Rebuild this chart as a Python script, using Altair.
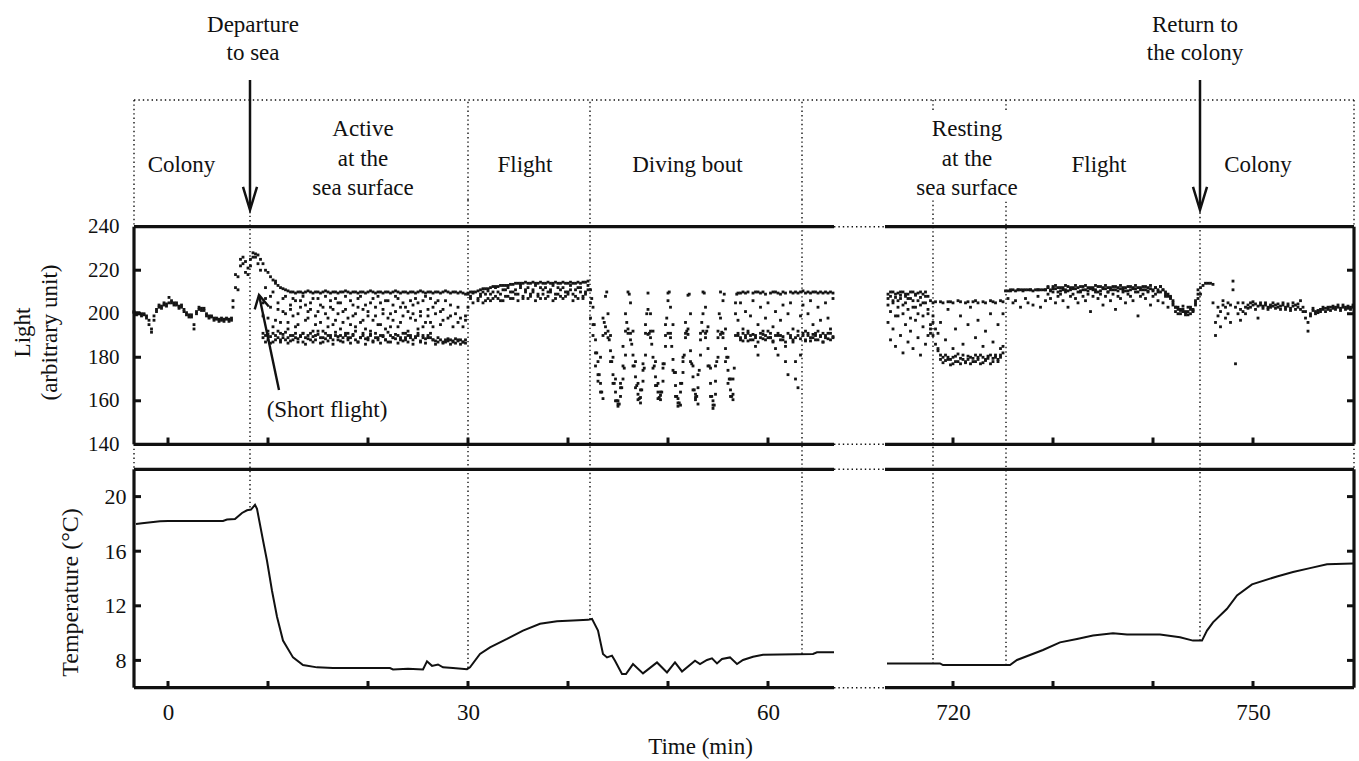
import altair as alt
import pandas as pd

# ---------------- axis break / sampling ----------------
OFFSET = 641.5                       # minutes removed by the axis break
X_MIN, BREAK_L, BREAK_R, X_MAX = -3.4, 66.6, 713.2, 760.1
STEP = 0.25                          # spacing of the light readings (min)

# ---------------- light (arbitrary unit) ----------------
COLONY1_T0 = -3.4
COLONY1_A = [200.5, 200.5, 200, 200, 199.5, 199, 197, 193, 197, 201,
             203, 203.5, 204, 204.5, 205, 206, 205, 204, 203.5, 203,
             202, 200.5, 199.5, 198.5, 193, 200, 202, 202.5, 201.5, 200,
             199, 198.5, 198, 197.5, 197.5, 197, 197.5, 197.5, 197.5, 198]
COLONY1_B = [201, 199.5, 200.5, 199, 200, 198, 195, 191.5, 199, 202,
             204, 202.5, 205, 203.5, 207.5, 205, 204, 205, 202.5, 204,
             201, 199.5, 198.5, 199.5, 195, 201, 203, 201.5, 202.5, 199,
             198, 199, 197, 198, 196.5, 198, 196.5, 198, 196.5, 197]

SHORT_T0 = 6.5
SHORT_A = [203, 212, 217, 225, 223, 219, 218, 222, 226, 227.5, 227, 225]
SHORT_B = [206, 218, 211, 222, 226, 224, 221, 225, 228, 226, 223, 220]

ACTIVE_T0 = 9.5
ACTIVE_TOP = [223, 220, 219, 217, 215.5, 214, 213, 212, 211.5, 211, 210.5, 210,
              210, 209.5, 210, 210, 209.5, 210, 210.5, 210, 209.5, 210,
              210, 209.5, 210, 210.5, 210, 209.5, 210, 210, 209.5, 210,
              210, 210.5, 210, 209.5, 210, 210, 209.5, 210, 210, 209.5,
              210, 210.5, 210, 209.5, 210, 210, 209.5, 210, 210, 209.5,
              210, 210.5, 210, 209.5, 210, 210, 209.5, 210, 210, 209.5,
              210, 210.5, 210, 209.5, 210, 210, 209.5, 210, 210, 209.5,
              210, 210.5, 210, 209.5, 210, 210, 209.5, 210, 209.5, 209]
ACTIVE_LOW = [189, 190, 188, 189.5, 187, 190, 189, 188, 190.5, 188,
              189, 187.5, 190, 189, 188.5, 190, 187, 189, 190, 188,
              189.5, 188, 190.5, 189, 187, 188.5, 190, 189, 188, 190,
              189.5, 187.5, 189, 190, 188, 189, 190.5, 188, 187, 189,
              190, 188.5, 189, 190, 187.5, 189, 188, 190, 189.5, 188,
              187, 190, 189, 188.5, 190, 189, 187.5, 188, 190, 189,
              188, 189.5, 190, 187, 189, 188.5, 190, 189, 188, 187.5,
              189, 188, 187, 188, 187.5, 188, 187, 188.5, 187.5, 188,
              187, 188]
ACTIVE_LOW2 = [191, 187, 190.5, 186.5, 191, 188, 192, 187, 189, 191.5,
               186.5, 190, 188, 191, 187, 189.5, 191, 186, 188.5, 191,
               187, 190, 192, 186.5, 189, 191, 187.5, 190, 186, 191.5,
               188, 190, 187, 191, 189, 186.5, 190, 192, 187, 189,
               191, 186, 188, 190.5, 187, 191, 189, 186.5, 190, 188,
               191.5, 187, 189, 190.5, 186.5, 188, 191, 189, 187, 190,
               186, 189, 191, 187.5, 190, 186.5, 189, 191, 188, 186,
               187, None, 186.5, 187, 188.5, 186, 187.5, 186.5, 188, 186,
               187, 186.5]
ACTIVE_MID = [205, 212, 198, 208, 194, 215, 202, 196, 207, 200,
              193, 204, 199, 206, 195, 203, 208, 197, 201, 205,
              192, 199, 207, 196, 203, 200, 194, 206, 202, 197,
              205, 193, 201, 208, 198, 195, 204, 200, 207, 196,
              202, 193, 199, 205, 197, 203, 208, 195, 200, 206,
              198, 194, 204, 201, 207, 196, 199, 203, 192, 206,
              200, 197, 205, 201, 194, 208, 199, 196, 203, 200,
              206, 195, 202, None, 198, 204, None, 200, 196, None,
              194, 199]
ACTIVE_MID2 = [199, 207, 192, 203, 210, 197, 205, 191, 201, 208,
               196, 202, 207, 194, 200, 206, 191, 204, 198, 202,
               207, 195, 201, 204, 192, 208, 198, 203, 195, 207,
               200, 205, 196, 202, 191, 206, 199, 194, 203, 208,
               197, 204, 201, 192, 207, 199, 195, 205, 202, 193,
               206, 200, 197, 208, 194, 203, 205, 191, 201, 198,
               204, 207, 193, 199, 206, 196, 202, 207, 194, 205,
               None, 201, 197, 206, None, 199, 194, None, 203, 198,
               None, 197]

FLIGHT1_T0 = 30.0
FLIGHT1_LINE = [209.5, 210, 210, 210, 210.5, 211, 211.5, 211.5, 211.5, 212,
                212.5, 212.5, 212.5, 213, 213, 213, 213, 213.5, 213.5, 214,
                214, 214, 214, 214.5, 214, 214, 214.5, 214, 214, 214.5,
                214, 214, 214.5, 214, 214, 214.5, 214, 214, 214.5, 214,
                214, 214.5, 214, 214, 214.5, 214, 214.5, 214.5, 215]
FLIGHT1_S1 = [203, 207, 205, None, 206, 208, 205, 209, 207, 206,
              210, 208, 207, 209, 206, 211, 208, 207, 210, 209,
              206, 212, 208, 210, 207, 209, 211, 206, 208, 212,
              209, 207, 210, 211, 206, 209, 212, 208, 207, 210,
              209, 211, 206, 208, 212, 210, 207, 209, 211]
FLIGHT1_S2 = [209, 208, 209.5, None, 207, 209, 210, 206, 210.5, 209,
              207, 212, 210, 206, 211, 208, 212, 210, 207, 211,
              209, 213, 207, 211, 212, 208, 210, 213, 209, 207,
              211, 212, 208, 210, 213, 207, 209, 211, 212, 208,
              210, 213, 209, 211, 207, 212, 208, 210, 213]

DIVING_T0 = 42.25
DIVING_A = [211, 203, 188, 178, 168, 161, 208, 192, 183, 172,
            164, 157.5, 162, 170, 181, 210, 191, 181, 171, 163,
            161.5, 169, 181, 209.5, 192, 180, 171, 164, 160.5, 169,
            185, 209.5, 191, 179, 167, 157.5, 164, 173, 189, 208.5,
            183, 171, 160.5, 166, 181, 210, 191, 184, 168, 156.5,
            169, 189, 210, 191, 184, 174, 165, 160.5, 190, 209.5,
            209.5, 210, 209.5, 210, None, 209.5, 210, 210, 209.5, 210,
            209, None, 209.5, 210, 210, 209.5, 209, 210, 209.5, None,
            210, 209.5, 210, 209.5, 210, 210.5, 209.5, 210, 209.5, 210,
            210, 209.5, 210, 209.5, 210, 209.5, 210, 209.5]
DIVING_B = [205, 195, 182, 172, 164, 190, 191, 200, 178, 168,
            160, 158.5, 166, 176, 192, 191, 205, 176, 166, 160.5,
            165, 174, 191, 190.5, 200, 175, 167, 161, 164, 177,
            195, 191, 203, 174, 162, 159, 168, 180, 191, 190.5,
            178, 165, 161.5, 172, 191, 192, 203, 176, 162, 158,
            176, 192, 190.5, 206, 178, 168, 162, 170, 200, 190,
            188, 191, 189, 187.5, 190, 188, 185, 181, 189, 190.5,
            188, 189, 191, 187, 184, 181, 190, 188, 178, 172,
            189, 187, 170, 166, 181, 191, 188, 190, 187.5, 189,
            191, 188, 190, 187, 189, 191, 188, 189.5]
DIVING_C = [198, 190, 176, 169, 180, 198, 194, 189, 190, 180,
            170, 160, 168, 185, 200, 193, 188, 192, 178, 168,
            159, 177, 195, 202, 189, 192, 178, 168, 162.5, 175,
            190, 206, 189, 195, 173, 161, 158, 178, 196, 193,
            200, 176, 163, 158.5, 188, 200, 189, 194, 175, 160,
            163, 180, 198, 189, 193, 180, 170, 163, 205, 197,
            205, 193, 201, 191, 199, 206, 190, 195, 203, 192,
            198, 205, 189, 194, 201, 190, 197, 204, 185, 200,
            205, 193, 178, 190, 199, 204, 192, 200, 206, 195,
            190, 203, 197, 191, 205, 198, 193, 207]
DIVES_T0 = 42.375                   # readings between the others, along the dive branches
DIVES_E = [207, 195, 182, 172, 164, 196, 210, 188, 178, 168,
           160, 158.5, 166, 175, 196, 209, 186, 176, 167, 161,
           165, 175, 200, 191, 186, 176, 167, 161.5, 164, 177,
           198, 210, 185, 173, 162, 159, 168, 181, 192, 209,
           177, 165, 162, 174, 196, 209.5, 192, 176, 162, 158,
           178, 200, 191.5, 209, 180, 170, 162, 175, 209]
BAND_T0 = 57.0
BAND_D = [191, 189, 187.5, 190, 192, 188, 190.5, 189, 187, 191,
          188.5, 190, 192, 189, 187.5, 190, 191, 188, 189.5, 187,
          191, 190, 188, 189, 192, 188.5, 190, 187.5, 191, 189,
          190.5, 188, 192, 189.5, 187, 190, 188.5, 191, 189]

RESTING1_T0 = 713.5
RESTING1_TOP = [209, 208, 210, 207.5, 209.5, 208.5, 210, 208, 209, 207, 210, 208.5, 209.5, 207.5, 209, 210, 208, 206]
RESTING1_S1 = [204, 201, 206, 199, 203, 207, 200, 205, 202, 198, 206, 203, 200, 204, 199, 205, 202, 195]
RESTING1_S2 = [196, 188, 193, 185, 199, 190, 182, 195, 187, 192, 184, 197, 189, 181, 194, 186, 190, 191]
RESTING1_S3 = [207, 210, 205, 209, 206, 210, 204, 209, 207, 210, 203, 209, 206, 210, 205, 208, 200, 193]

RESTING2_T0 = 718.0
RESTING2_TOP = [205, 205.5, None, 205.5, 205, None, 205.5, 205.5, 205, None,
                206, 205.5, None, 205, 205.5, None, 205.5, 206, 205, None,
                205.5, 205, None, 206, 205.5, 205, None, 206, 205.5]
RESTING2_LOW = [190, 186, 183, 181, 180, 178.5, 180, 179, 177, 180.5,
                178, 179.5, 181, 177.5, 179, 180, 178, 181, 179, 177,
                180, 178.5, 179.5, 181, 178, 180, 179, 181, 182]
RESTING2_LOW2 = [196, 193, 184, 179, 177.5, 181, 179, 176.5, 180, 178,
                 181.5, 177, 179, 178, 180.5, 177, 179.5, 178, 180, 181,
                 177.5, 179, 180.5, 177, 179.5, 181, 178, 180, 185]
RESTING2_MID = [199, None, 191, 196, None, 188, 202, None, 184, 193,
                None, 199, 186, None, 195, 203, None, 189, 197, None,
                185, 192, None, 200, 187, None, 195, 184, 200]

FLIGHT2_T0 = 725.25
FLIGHT2_LINE = [210.5, 210.5, 210.5, 211, 210.5, 211, 211, 210.5, 211, 211,
                211, 210.5, 211, 211, 211, 211, 211, 212, 211, 212.5,
                211.5, 212, 210.5, 212, 211, 212.5, 211, 212, 211.5, 212,
                210.5, 212.5, 211, 212, 211.5, 212, 211, 212.5, 210.5, 212,
                211.5, 212, 211, 212.5, 211, 212, 211.5, 212, 210.5, 212.5,
                211, 212, 211.5, 212, 211, 212.5, 211, 212, 211.5, 210.5,
                212, 211, 212.5, 211, 210, 209, 208, 205, 203, 202,
                201.5, 201, 200.5, 201, 202, 201.5, 205, 209]
FLIGHT2_S1 = [None, 207, None, 205, 206, None, 203, None, 207, 205,
              None, 204, None, 208, 203, None, 206, 209, 207, 210,
              205, 208, 209, 206, 210, 203, 208, 209, 207, 205,
              210, 208, 206, 209, 201, 208, 210, 207, 209, 204,
              208, 210, 206, 209, 202, 208, 207, 210, 205, 209,
              208, 206, 210, 199, 208, 209, 207, 210, 204, 208,
              209, 206, 210, 205, 208, 203, 207, 206, 201, 203,
              200, 202, 199.5, 203, 200, 201, 206, 211]
FLIGHT2_S2 = [None, None, 211, None, None, 211, None, 211, None, None,
              211, None, None, 211, None, None, 211, 212.5, 210.5, 211.5,
              213, 210, 212, 211, 213, 210.5, 212, 211.5, 213, 210,
              212.5, 211, 213, 210.5, 212, 211, 213, 210, 212.5, 211.5,
              213, 210, 212, 211, 212.5, 210.5, 213, 211, 212, 210.5,
              212.5, 211.5, 213, 210, 212, 211, 212.5, 210.5, 213, 211,
              212, 210, 212.5, 211, 209, 208, 207.5, 204, 203, 200,
              202, 203.5, 201, 199.5, 203, 202, 204, 207]

COLONY2_T0 = 744.75
COLONY2_MAIN = [212, 213, 214, 214, 214, 213.5, 196, 203, 201, 204,
                203, 200, 204, 215, 203, 200, 197, 201, 203, 204,
                205, 204, 204.5, 203.5, 204, 203.5, 204, 203, 204, 203.5,
                204, 203, 203.5, 204, 203, 203.5, 202.5, 203.5, 204, 203,
                202, 203, 201, 196, 200, 201.5, 201, 201.5, 202, 202,
                202.5, 202, 203, 202.5, 203, 203, 202.5, 203, 203, 202.5,
                203, 203]
COLONY2_S = [209, None, None, None, None, 205, 190, 199, 194, 206,
             198, 205, 196, 211, 177, 205, 202, 205, 200, 202.5,
             203, 205.5, 202, 198, 205, 202.5, 205, 202, 203, 205,
             202.5, 204.5, 202, 205, 202, 204.5, 201.5, 205, 202, 204.5,
             206, 201, 198, 192, 199, 202.5, 200, 200.5, 201, 203,
             201, 203, 201.5, 203.5, 202, 204, 201.5, 204, 202, 203.5,
             202, 204]

LIGHT_SEGMENTS = [
    (COLONY1_T0, [COLONY1_A, COLONY1_B]),
    (SHORT_T0, [SHORT_A, SHORT_B]),
    (ACTIVE_T0, [ACTIVE_TOP, ACTIVE_LOW, ACTIVE_LOW2, ACTIVE_MID, ACTIVE_MID2]),
    (FLIGHT1_T0, [FLIGHT1_LINE, FLIGHT1_S1, FLIGHT1_S2]),
    (DIVING_T0, [DIVING_A, DIVING_B, DIVING_C]),
    (DIVES_T0, [DIVES_E]),
    (BAND_T0, [BAND_D]),
    (RESTING1_T0, [RESTING1_TOP, RESTING1_S1, RESTING1_S2, RESTING1_S3]),
    (RESTING2_T0, [RESTING2_TOP, RESTING2_LOW, RESTING2_LOW2, RESTING2_MID]),
    (FLIGHT2_T0, [FLIGHT2_LINE, FLIGHT2_S1, FLIGHT2_S2]),
    (COLONY2_T0, [COLONY2_MAIN, COLONY2_S]),
]

# ---------------- temperature (°C) ----------------
TEMP_T_LEFT = [-3.2, -2.6, -0.8, 0.0, 5.5, 5.9, 6.7, 7.4, 7.9, 8.3, 8.7, 8.9, 9.5, 9.9,
               10.4, 10.9, 11.5, 12.5, 13.5, 14.9, 16.5, 22.2, 22.5, 24.0, 25.5, 25.9,
               26.4, 27.0, 27.5, 28.5, 29.9, 30.2, 31.2, 32.2, 33.9, 35.5, 37.2, 38.9,
               40.5, 42.0, 42.4, 43.0, 43.5, 43.9, 44.4, 44.7, 45.4, 45.8, 46.5, 47.5,
               48.9, 49.9, 50.7, 51.4, 52.7, 53.2, 53.9, 54.4, 54.9, 55.4, 56.2, 56.9,
               57.5, 58.5, 59.5, 64.5, 64.9, 66.6]
TEMP_V_LEFT = [18.0, 18.05, 18.2, 18.22, 18.22, 18.32, 18.35, 18.8, 19.0, 19.05, 19.4, 19.1,
               16.8, 15.3, 13.1, 11.2, 9.45, 8.22, 7.66, 7.49, 7.44, 7.44, 7.34, 7.38,
               7.34, 7.93, 7.6, 7.7, 7.49, 7.44, 7.36, 7.49, 8.47, 8.96, 9.57, 10.18,
               10.68, 10.87, 10.92, 10.97, 11.04, 10.18, 8.47, 8.22, 8.35, 7.98, 7.0,
               7.0, 7.73, 7.05, 7.85, 7.12, 7.85, 7.19, 7.98, 7.73, 8.03, 8.15, 7.78,
               8.1, 8.22, 7.73, 8.03, 8.27, 8.42, 8.47, 8.59, 8.59]
TEMP_T_RIGHT = [713.4, 718.7, 719.0, 725.7, 726.4, 729.0, 730.7, 732.4, 734.0, 736.0,
                737.4, 740.7, 742.7, 744.0, 744.9, 745.4, 746.0, 747.4, 748.4, 749.9,
                752.4, 754.0, 755.7, 757.4, 760.0]
TEMP_V_RIGHT = [7.78, 7.78, 7.66, 7.66, 8.03, 8.76, 9.32, 9.57, 9.82, 9.99, 9.89, 9.89,
                9.69, 9.45, 9.45, 10.18, 10.79, 11.78, 12.76, 13.57, 14.15, 14.47,
                14.76, 15.04, 15.09]

# ---------------- phases / annotations ----------------
PHASE_T = [8.2, 30.0, 42.2, 63.4, 718.0, 725.3, 744.7]
PHASE_TEMP_AT = [19.2, 7.45, 11.0, 8.47, 7.75, 7.66, 9.45]
LABEL_HIDDEN = [718.0, 725.3]        # lines hidden behind the "Resting" label
PHASE_NAMES = ["Colony", "Active\nat the\nsea surface", "Flight", "Diving bout",
               "Resting\nat the\nsea surface", "Flight", "Colony"]
PHASE_NAME_T = [1.35, 19.5, 35.7, 51.95, 721.4, 734.6, 750.5]
EVENT_NAMES = ["Departure\nto sea", "Return to\nthe colony"]
EVENT_T = [8.2, 744.7]
EVENT_LABEL_T = [8.5, 744.2]
SHORT_FLIGHT = {"label": "(Short flight)", "t": 15.9, "v": 155.8,
                "tip_t": 9.1, "tip_v": 208.6, "tail_t": 11.1, "tail_v": 165.0}

X_TICKS = [0, 10, 20, 30, 40, 50, 60, 720, 730, 740, 750]
X_LABELED = [0, 30, 60, 720, 750]
LIGHT_TICKS = [140, 160, 180, 200, 220, 240]
TEMP_TICKS = [8, 12, 16, 20]


def xd(t):
    return t - OFFSET if t > 300 else t


rows = []
for t0, tracks in LIGHT_SEGMENTS:
    for track in tracks:
        for i, v in enumerate(track):
            if v is not None:
                t = round(t0 + i * STEP, 3)
                rows.append({"t": t, "xd": xd(t), "v": v})
light_df = pd.DataFrame(rows)

temp_df = pd.DataFrame(
    [{"t": t, "xd": xd(t), "temp": v, "seg": "a"} for t, v in zip(TEMP_T_LEFT, TEMP_V_LEFT)]
    + [{"t": t, "xd": xd(t), "temp": v, "seg": "b"} for t, v in zip(TEMP_T_RIGHT, TEMP_V_RIGHT)]
)
phase_df = pd.DataFrame({"t": PHASE_T, "xd": [xd(t) for t in PHASE_T], "temp": PHASE_TEMP_AT,
                         "hidden": [t in LABEL_HIDDEN for t in PHASE_T]})

# ---------------- scales & axes ----------------
W, H = 1220, 688
FONT = "Liberation Serif"
INK = "#111111"
DOT = [1.4, 3.0]

XS = alt.Scale(domain=[X_MIN, X_MAX - OFFSET], nice=False, zero=False)
XAX = alt.Axis(values=[xd(t) for t in X_LABELED],
               labelExpr=f"datum.value > 70 ? format(datum.value + {OFFSET}, 'd') : format(datum.value, 'd')",
               title="Time (min)", orient="bottom", ticks=False, tickSize=0, domain=False, grid=False,
               labelPadding=24, labelBaseline="middle", labelFontSize=23, labelFlush=False,
               titleFontSize=23, titleX=566, titleY=58, titleBaseline="middle")
X = alt.X("xd:Q", scale=XS, axis=XAX)

YLS = alt.Scale(domain=[140, 240], range=[444.3, 226.7], nice=False, zero=False)
YLAX = alt.Axis(values=LIGHT_TICKS, orient="left", ticks=False, tickSize=0, domain=False, grid=False,
                labelPadding=15, labelFontSize=21, title=["Light", "(arbitrary unit)"],
                titleFontSize=23, titleX=-100, titleY=332, titleAngle=270, titleBaseline="bottom",
                titleAlign="center", titleLineHeight=27)
YL = alt.Y("v:Q", scale=YLS, axis=YLAX)

YTS = alt.Scale(domain=[6, 22], range=[687.7, 469.3], nice=False, zero=False)
YTAX = alt.Axis(values=TEMP_TICKS, orient="left", ticks=False, tickSize=0, domain=False, grid=False,
                labelPadding=8, labelFontSize=22, title="Temperature (°C)",
                titleFontSize=24, titleX=-52, titleY=592, titleAngle=270, titleBaseline="bottom",
                titleAlign="center")
YT = alt.Y("temp:Q", scale=YTS, axis=YTAX)

one = pd.DataFrame({"k": [0]})
V_DOWN = "M -0.56 -1.85 L 0 0 L 0.56 -1.85"
V_SMALL = "M -0.6 -1.1 L 0 0 L 0.6 -1.1"

# ---------------- light panel ----------------
pts = alt.Chart(light_df).mark_square(size=8, color="#151515", opacity=1).encode(x=X, y=YL)

lh = pd.DataFrame({"xd": [X_MIN, X_MIN, xd(BREAK_R), xd(BREAK_R)],
                   "xd2": [BREAK_L, BREAK_L, xd(X_MAX), xd(X_MAX)],
                   "v": [240, 140, 240, 140]})
light_frame = alt.Chart(lh).mark_rule(strokeWidth=3.2, color=INK).encode(x=X, x2="xd2:Q", y=YL)
lhd = pd.DataFrame({"xd": [BREAK_L, BREAK_L], "xd2": [xd(BREAK_R)] * 2, "v": [240, 140]})
light_gap = alt.Chart(lhd).mark_rule(strokeWidth=1.4, strokeDash=DOT, color=INK).encode(x=X, x2="xd2:Q", y=YL)
lv = pd.DataFrame({"v": [240], "v2": [140]})
light_left = alt.Chart(lv).mark_rule(strokeWidth=3.2, color=INK).encode(x=alt.value(0), y=YL, y2="v2:Q")
light_right = alt.Chart(lv).mark_rule(strokeWidth=3.2, color=INK).encode(x=alt.value(W), y=YL, y2="v2:Q")
lt = pd.DataFrame({"v": LIGHT_TICKS[1:-1]})
light_tl = alt.Chart(lt).mark_rule(strokeWidth=3, color=INK).encode(x=alt.value(0), x2=alt.value(7), y=YL)
light_tr = alt.Chart(lt).mark_rule(strokeWidth=3, color=INK).encode(x=alt.value(W), x2=alt.value(W - 7), y=YL)
xt = pd.DataFrame({"xd": [xd(t) for t in X_TICKS]})
light_xt = alt.Chart(xt).mark_rule(strokeWidth=3, color=INK).encode(x=X, y=alt.value(444.3), y2=alt.value(437.5))

sf_line = alt.Chart(pd.DataFrame({"xd": [SHORT_FLIGHT["tail_t"]], "xd2": [SHORT_FLIGHT["tip_t"]],
                                  "v": [SHORT_FLIGHT["tail_v"]], "v2": [SHORT_FLIGHT["tip_v"]]})
                    ).mark_rule(strokeWidth=2.4, color=INK).encode(x=X, x2="xd2:Q", y=YL, y2="v2:Q")
sf_head = alt.Chart(pd.DataFrame({"xd": [SHORT_FLIGHT["tip_t"]], "v": [SHORT_FLIGHT["tip_v"]]})
                    ).mark_point(shape=V_SMALL, size=576, angle=168, filled=False, strokeWidth=2.4,
                                 color=INK, opacity=1).encode(x=X, y=YL)
sf_text = alt.Chart(pd.DataFrame({"xd": [SHORT_FLIGHT["t"]], "v": [SHORT_FLIGHT["v"]],
                                  "label": [SHORT_FLIGHT["label"]]})
                    ).mark_text(fontSize=23, color=INK, baseline="middle", align="center"
                                ).encode(x=X, y=YL, text="label:N")

light = alt.layer(pts, light_frame, light_gap, light_left, light_right, light_tl, light_tr,
                  light_xt, sf_line, sf_head, sf_text)

# ---------------- temperature panel ----------------
tline = alt.Chart(temp_df).mark_line(strokeWidth=2, color=INK).encode(x=X, y=YT, detail="seg:N")
th = pd.DataFrame({"xd": [X_MIN, X_MIN, xd(BREAK_R), xd(BREAK_R)],
                   "xd2": [BREAK_L, BREAK_L, xd(X_MAX), xd(X_MAX)],
                   "temp": [22, 6, 22, 6]})
temp_frame = alt.Chart(th).mark_rule(strokeWidth=3.2, color=INK).encode(x=X, x2="xd2:Q", y=YT)
thd = pd.DataFrame({"xd": [BREAK_L, BREAK_L], "xd2": [xd(BREAK_R)] * 2, "temp": [22, 6]})
temp_gap = alt.Chart(thd).mark_rule(strokeWidth=1.4, strokeDash=DOT, color=INK).encode(x=X, x2="xd2:Q", y=YT)
tv = pd.DataFrame({"temp": [22], "t2": [6]})
temp_left = alt.Chart(tv).mark_rule(strokeWidth=3.2, color=INK).encode(x=alt.value(0), y=YT, y2="t2:Q")
temp_right = alt.Chart(tv).mark_rule(strokeWidth=3.2, color=INK).encode(x=alt.value(W), y=YT, y2="t2:Q")
tt = pd.DataFrame({"temp": TEMP_TICKS})
temp_tl = alt.Chart(tt).mark_rule(strokeWidth=3, color=INK).encode(x=alt.value(0), x2=alt.value(7), y=YT)
temp_tr = alt.Chart(tt).mark_rule(strokeWidth=3, color=INK).encode(x=alt.value(W), x2=alt.value(W - 7), y=YT)
temp_xt = alt.Chart(xt).mark_rule(strokeWidth=3, color=INK).encode(x=X, y=alt.value(687.7), y2=alt.value(681))
phase_low = alt.Chart(phase_df).mark_rule(strokeWidth=1.4, strokeDash=DOT, color=INK).encode(
    x=X, y=YT, y2=alt.value(200))

temp = alt.layer(tline, temp_frame, temp_gap, temp_left, temp_right, temp_tl, temp_tr, temp_xt, phase_low)

# ---------------- annotation band ----------------
top_line = alt.Chart(one).mark_rule(strokeWidth=1.4, strokeDash=DOT, color=INK).encode(
    x=alt.value(0), x2=alt.value(W), y=alt.value(100))
border_dots = [
    alt.Chart(one).mark_rule(strokeWidth=1.4, strokeDash=DOT, color=INK).encode(
        x=alt.value(xp), y=alt.value(a), y2=alt.value(b))
    for xp in (0, W) for a, b in ((100, 226.7), (444.3, 469.3))
]
phase_up = alt.Chart(phase_df).transform_filter("!datum.hidden").mark_rule(
    strokeWidth=1.4, strokeDash=DOT, color=INK).encode(x=X, y=alt.value(200), y2=alt.value(100))
phase_up_short = alt.Chart(phase_df).transform_filter("datum.hidden").mark_rule(
    strokeWidth=1.4, strokeDash=DOT, color=INK).encode(x=X, y=alt.value(110), y2=alt.value(100))

names_df = pd.DataFrame({"xd": [xd(t) for t in PHASE_NAME_T], "label": PHASE_NAMES})
TEXT_STYLE = dict(fontSize=23, color=INK, baseline="middle", align="center", lineBreak="\n")
names_one = alt.Chart(names_df).transform_filter("indexof(datum.label, '\\n') < 0").mark_text(
    **TEXT_STYLE).encode(x=X, y=alt.value(165), text="label:N")
names_multi = alt.Chart(names_df).transform_filter("indexof(datum.label, '\\n') >= 0").mark_text(
    lineHeight=29.5, **TEXT_STYLE).encode(x=X, y=alt.value(129), text="label:N")
ev_df = pd.DataFrame({"xd": [xd(t) for t in EVENT_LABEL_T], "label": EVENT_NAMES})
ev_text = alt.Chart(ev_df).mark_text(lineHeight=28, **TEXT_STYLE).encode(
    x=X, y=alt.value(25), text="label:N")
arr_df = pd.DataFrame({"xd": [xd(t) for t in EVENT_T]})
arr_shaft = alt.Chart(arr_df).mark_rule(strokeWidth=2.5, color=INK).encode(
    x=X, y=alt.value(80), y2=alt.value(208))
arr_head = alt.Chart(arr_df).mark_point(shape=V_DOWN, size=625, filled=False, strokeWidth=2.5,
                                        color=INK, opacity=1).encode(x=X, y=alt.value(210))

annot = alt.layer(top_line, *border_dots, phase_up, phase_up_short, names_one, names_multi,
                  ev_text, arr_shaft, arr_head)

chart = (
    alt.layer(light, temp, annot)
    .resolve_scale(y="independent")
    .properties(width=W, height=H, autosize=alt.AutoSizeParams(type="none"),
                padding={"left": 134, "top": 0, "right": 5, "bottom": 73})
    .configure(font=FONT)
    .configure_view(stroke=None)
    .configure_axis(labelColor=INK, titleColor=INK, titleFontWeight="normal", labelFont=FONT, titleFont=FONT)
    .configure_text(font=FONT)
)

chart.save("out.html", embed_options={"renderer": "svg", "actions": False})
